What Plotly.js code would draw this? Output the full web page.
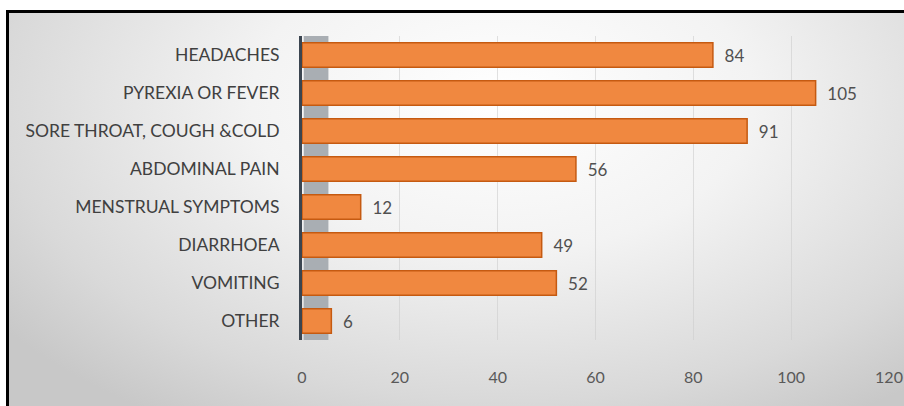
<!DOCTYPE html>
<html>
<head>
<meta charset="utf-8">
<script src="https://cdn.plot.ly/plotly-3.0.1.min.js"></script>
<style>
  html, body { margin: 0; padding: 0; background: #ffffff; }
  #wrap { position: relative; width: 904px; height: 406px; overflow: hidden; }
  #bg {
    position: absolute; left: 6px; top: 10px; width: 898px; height: 396px;
    border-top: 3px solid #000; border-left: 3px solid #000;
    background: radial-gradient(ellipse 70% 95% at 55% 22%, #ffffff 0%, #f3f3f3 40%, #d9d9d9 80%, #c8c8c8 100%);
  }
  #chart { position: absolute; left: 0; top: 0; width: 904px; height: 406px; }
</style>
</head>
<body>
<div id="wrap">
  <div id="bg"></div>
  <div id="chart"></div>
</div>
<script>
const categories = [
  "HEADACHES",
  "PYREXIA OR FEVER",
  "SORE THROAT, COUGH &COLD",
  "ABDOMINAL PAIN",
  "MENSTRUAL SYMPTOMS",
  "DIARRHOEA",
  "VOMITING",
  "OTHER"
];
const counts = [84, 105, 91, 56, 12, 49, 52, 6];
const xTicks = [0, 20, 40, 60, 80, 100, 120];

const trace = {
  type: "bar",
  orientation: "h",
  y: categories,
  x: counts,
  marker: { color: "#F08840", line: { color: "#C55A11", width: 1.5 } },
  text: counts.map(String),
  texttemplate: "\u00a0\u00a0%{text}",
  textposition: "outside",
  cliponaxis: false,
  textfont: { family: "Lato, sans-serif", size: 17, color: "#505050" },
  hoverinfo: "skip"
};

const layout = {
  width: 904,
  height: 406,
  paper_bgcolor: "rgba(0,0,0,0)",
  plot_bgcolor: "rgba(0,0,0,0)",
  margin: { l: 302, r: 15, t: 36, b: 66 },
  bargap: 0.36,
  showlegend: false,
  xaxis: {
    range: [0, 120],
    tickvals: xTicks,
    ticktext: xTicks.map(String),
    showgrid: true,
    gridcolor: "rgba(205,205,205,0.6)",
    gridwidth: 1,
    zeroline: false,
    showline: false,
    ticks: "",
    ticklabelstandoff: 26,
    tickfont: { family: "Lato, sans-serif", size: 16, color: "#595959" },
    fixedrange: true
  },
  yaxis: {
    autorange: "reversed",
    showline: true,
    linecolor: "#3b4550",
    linewidth: 3,
    showgrid: false,
    zeroline: false,
    ticks: "",
    ticklabelstandoff: 16,
    tickfont: { family: "Lato, sans-serif", size: 17.5, color: "#404040" },
    fixedrange: true
  },
  shapes: [
    {
      type: "rect", xref: "paper", yref: "paper",
      x0: 0.003, x1: 0.045, y0: 0.0, y1: 1.0,
      fillcolor: "#a9aeb3", line: { width: 0 }, layer: "below"
    }
  ]
};

Plotly.newPlot("chart", [trace], layout, { displayModeBar: false, staticPlot: true });
</script>
</body>
</html>
